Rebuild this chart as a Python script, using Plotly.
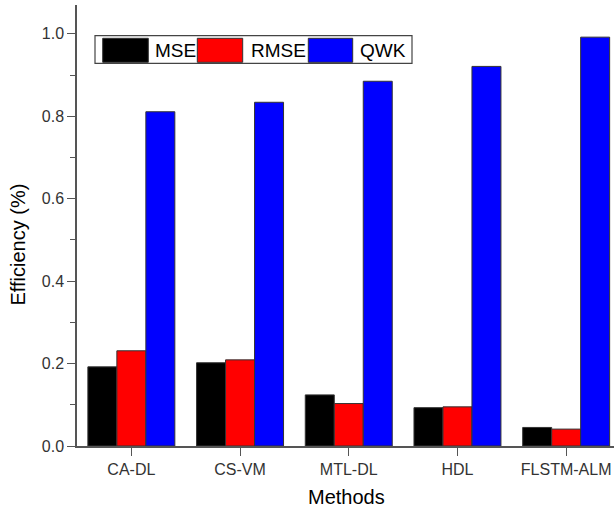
import plotly.graph_objects as go

categories = ["CA-DL", "CS-VM", "MTL-DL", "HDL", "FLSTM-ALM"]
mse = [0.192, 0.202, 0.124, 0.093, 0.045]
rmse = [0.231, 0.209, 0.103, 0.095, 0.041]
qwk = [0.811, 0.834, 0.885, 0.921, 0.992]
series_names = ["MSE", "RMSE", "QWK"]
series_colors = ["#000000", "#ff0000", "#0000ff"]
y_ticks = [0.0, 0.2, 0.4, 0.6, 0.8, 1.0]

FW, FH = 614, 510
L, R, T, B = 77, 0, 5, 64
PW, PH = FW - L - R, FH - T - B


def px_x(px):
    return (px - L) / PW


def px_y(py):
    return (FH - B - py) / PH


fig = go.Figure()
for name, vals, col in zip(series_names, [mse, rmse, qwk], series_colors):
    fig.add_trace(go.Bar(
        x=categories, y=vals, name=name,
        marker=dict(color=col, line=dict(color="#333333", width=1)),
        showlegend=False,
    ))

font_family = "Liberation Sans, Arial, sans-serif"

fig.update_layout(
    width=FW, height=FH,
    margin=dict(l=L, r=R, t=T, b=B),
    plot_bgcolor="white", paper_bgcolor="white",
    barmode="group", bargap=0.2, bargroupgap=0,
    font=dict(family=font_family, color="#333333"),
)

fig.update_xaxes(
    type="category", range=[-0.5, 4.44],
    showline=True, linecolor="#555555", linewidth=1.5,
    ticks="outside", ticklen=8, tickwidth=1.2, tickcolor="#555555",
    tickfont=dict(size=16, color="#333333"),
    showgrid=False, zeroline=False,
    minor=dict(ticks="outside", ticklen=4, tickwidth=1.2, tickcolor="#555555",
               tick0=0.5, dtick=1, showgrid=False),
)
fig.update_yaxes(
    range=[0, 1.07],
    tickvals=y_ticks, ticktext=[f"{v:.1f}" for v in y_ticks],
    showline=True, linecolor="#555555", linewidth=1.5,
    ticks="outside", ticklen=8, tickwidth=1.2, tickcolor="#555555",
    tickfont=dict(size=16, color="#333333"),
    showgrid=False, zeroline=False,
    minor=dict(ticks="outside", ticklen=5, tickwidth=1.2, tickcolor="#555555",
               tickvals=[0.1, 0.3, 0.5, 0.7, 0.9], showgrid=False),
)

# axis titles
fig.add_annotation(text="Efficiency (%)", xref="paper", yref="paper",
                   x=px_x(17.5), y=px_y(245), textangle=-90,
                   showarrow=False, xanchor="center", yanchor="middle",
                   font=dict(size=20, color="#000000", family=font_family))
fig.add_annotation(text="Methods", xref="paper", yref="paper",
                   x=px_x(346), y=px_y(497),
                   showarrow=False, xanchor="center", yanchor="middle",
                   font=dict(size=20, color="#000000", family=font_family))

# legend box
fig.add_shape(type="rect", xref="paper", yref="paper",
              x0=px_x(95), x1=px_x(412), y0=px_y(63.3), y1=px_y(35.7),
              line=dict(color="#444444", width=1.2), fillcolor="white")
sw = [(102.7, 148.3), (197.3, 242.7), (308.3, 352.7)]
tx = [153, 249, 358]
for (a, b), t, name, col in zip(sw, tx, series_names, series_colors):
    fig.add_shape(type="rect", xref="paper", yref="paper",
                  x0=px_x(a), x1=px_x(b), y0=px_y(62.3), y1=px_y(38.3),
                  line=dict(color="#333333", width=1), fillcolor=col)
    fig.add_annotation(text=name, xref="paper", yref="paper",
                       x=px_x(t), y=px_y(50.5), showarrow=False,
                       xanchor="left", yanchor="middle",
                       font=dict(size=19, color="#000000", family=font_family))

fig.write_html(
    "out.html",
    config={"displayModeBar": False},
    post_script="document.body.style.margin='0';document.body.style.overflow='hidden';",
)
